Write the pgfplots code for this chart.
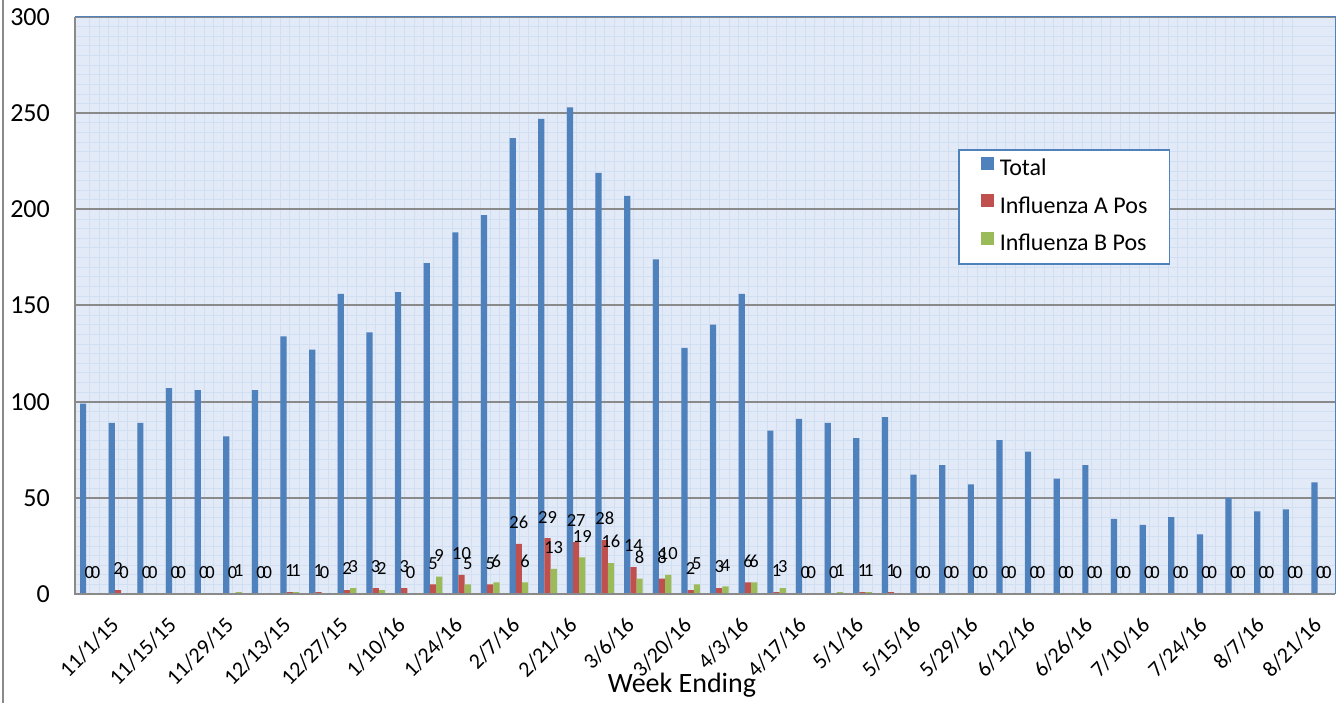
\documentclass[border=0pt]{standalone}
\usepackage{pgfplots}
\usepackage{pgfplotstable}
\pgfplotsset{compat=1.18}
\usepackage{fontspec}
\setmainfont{Carlito}
\definecolor{cTot}{HTML}{4F81BD}
\definecolor{cA}{HTML}{C0504D}
\definecolor{cB}{HTML}{9BBB59}
\definecolor{bgc}{HTML}{E1EAF6}
\definecolor{gridc}{HTML}{D0DFF2}
\definecolor{majc}{HTML}{8A8A8A}
\pgfplotstableread{
x total a b
0 99 0 0
1 89 2 0
2 89 0 0
3 107 0 0
4 106 0 0
5 82 0 1
6 106 0 0
7 134 1 1
8 127 1 0
9 156 2 3
10 136 3 2
11 157 3 0
12 172 5 9
13 188 10 5
14 197 5 6
15 237 26 6
16 247 29 13
17 253 27 19
18 219 28 16
19 207 14 8
20 174 8 10
21 128 2 5
22 140 3 4
23 156 6 6
24 85 1 3
25 91 0 0
26 89 0 1
27 81 1 1
28 92 1 0
29 62 0 0
30 67 0 0
31 57 0 0
32 80 0 0
33 74 0 0
34 60 0 0
35 67 0 0
36 39 0 0
37 36 0 0
38 40 0 0
39 31 0 0
40 50 0 0
41 43 0 0
42 44 0 0
43 58 0 0
}\flu
\begin{document}
\begin{tikzpicture}
\useasboundingbox (0,0) rectangle (1343pt,703pt);
\draw[majc,line width=2pt] (3pt,0) -- (3pt,703pt);
\begin{axis}[
  at={(75pt,109pt)}, anchor=south west,
  scale only axis, width=1260pt, height=577pt,
  ybar=0pt, bar width=6.2pt,
  xmin=-0.5, xmax=43.5, ymin=0, ymax=300,
  xtick={0,2,...,42},
  xticklabels={11/1/15,11/15/15,11/29/15,12/13/15,12/27/15,1/10/16,1/24/16,2/7/16,2/21/16,3/6/16,3/20/16,4/3/16,4/17/16,5/1/16,5/15/16,5/29/16,6/12/16,6/26/16,7/10/16,7/24/16,8/7/16,8/21/16},
  ytick={0,50,...,300},
  minor x tick num=5, minor y tick num=9,
  major tick length=0pt, minor tick length=0pt,
  grid=both,
  minor grid style={gridc, line width=0.7pt},
  major x grid style={gridc, line width=0.7pt},
  major y grid style={majc, line width=2pt},
  axis background/.style={fill=bgc},
  axis line style={cTot, line width=1pt},
  /pgf/number format/assume math mode=true,
  yticklabel style={font=\fontsize{26}{30}\selectfont, inner sep=0pt, anchor=east},
  yticklabel shift=25pt,
  xticklabel style={font=\fontsize{22}{26}\selectfont, inner sep=0pt, xshift=20pt, yshift=3pt, rotate=45, anchor=north east},
  xticklabel shift=25pt,
  xlabel={Week Ending},
  xlabel style={font=\fontsize{28}{32}\selectfont, at={(axis description cs:0.4817,-0.1577)}, anchor=center},
  legend style={at={(axis description cs:0.7008,0.7712)}, anchor=north west,
    draw=cTot, line width=1.5pt, fill=white,
    font=\fontsize{24}{28}\selectfont,
    nodes={inner sep=0pt, text height=17pt, text depth=6pt},
    inner xsep=22pt, inner ysep=7pt, row sep=12.5pt, column sep=6pt},
  legend cell align=left,
  legend image code/.code={\fill[#1] (0pt,0.5pt) rectangle (13pt,13.5pt);},
  nodes near coords style={font=\fontsize{18.5}{20}\selectfont, inner sep=0pt, anchor=south, yshift=15pt, text=black},
  clip=false,
]
\addplot[fill=cTot, draw=none] table[x=x,y=total]{\flu};
\addplot[fill=cA, draw=none, nodes near coords] table[x=x,y=a]{\flu};
\addplot[fill=cB, draw=none, nodes near coords] table[x=x,y=b]{\flu};
\legend{Total,Influenza A Pos,Influenza B Pos}
\draw[majc, line width=2pt] (axis cs:-0.5,300) -- (axis cs:-0.5,0) -- (axis cs:43.5,0);
\end{axis}
\end{tikzpicture}
\end{document}
